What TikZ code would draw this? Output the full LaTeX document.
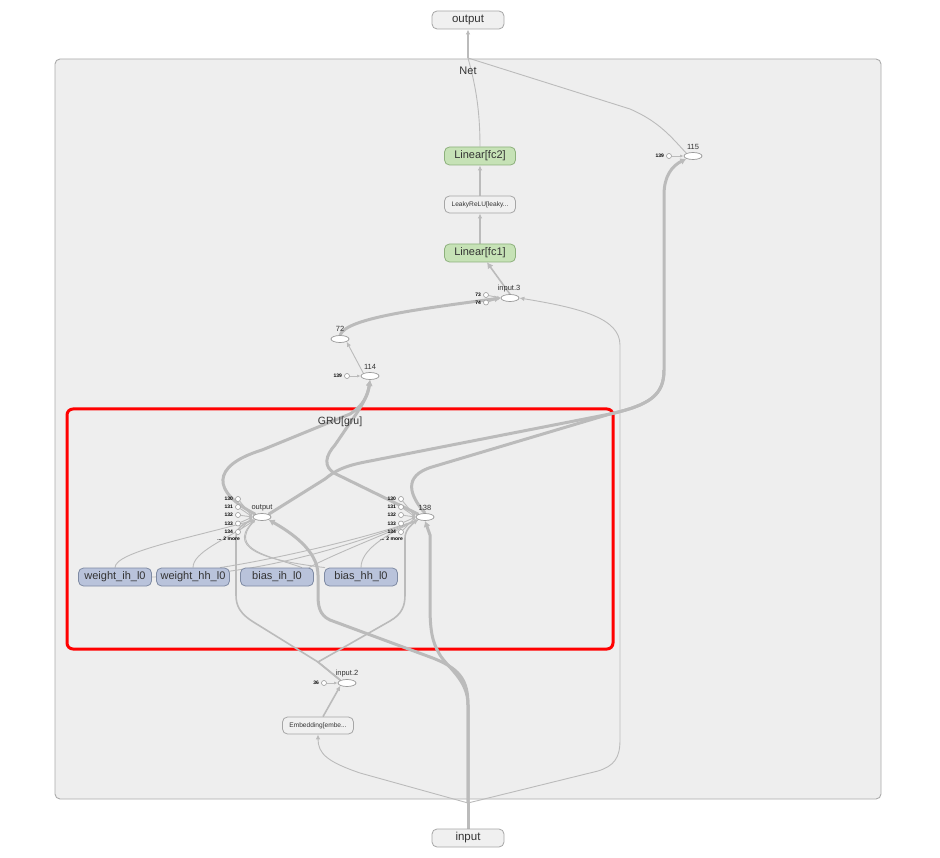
\documentclass[tikz,border=0pt]{standalone}
\usepackage{fontspec}
\setmainfont{Liberation Sans}
\usetikzlibrary{arrows.meta,shapes.geometric}

\definecolor{edgecol}{HTML}{BBBBBB}
\definecolor{netfill}{HTML}{EEEEEE}
\definecolor{netline}{HTML}{ABABAB}
\definecolor{boxfill}{HTML}{F0F0F0}
\definecolor{boxline}{HTML}{A6A6A6}
\definecolor{linfill}{HTML}{C6E2B6}
\definecolor{linline}{HTML}{8DB07C}
\definecolor{parfill}{HTML}{B9C3DB}
\definecolor{parline}{HTML}{7E8AA3}
\definecolor{opline}{HTML}{9A9A9A}
\definecolor{txt}{HTML}{333333}
\definecolor{grured}{HTML}{FF0000}

\pgfdeclarelayer{containers}
\pgfdeclarelayer{edges}
\pgfsetlayers{containers,edges,main}

\tikzset{
  iobox/.style={draw=boxline, fill=boxfill, rounded corners=5pt, line width=0.8pt,
    minimum width=72pt, minimum height=18pt, inner sep=0pt, text=txt,
    font=\fontsize{11.5}{12}\selectfont},
  linbox/.style={iobox, draw=linline, fill=linfill, minimum width=71pt,
    font=\fontsize{11}{12}\selectfont},
  modbox/.style={iobox, minimum width=71pt, minimum height=17pt,
    font=\fontsize{6.6}{7}\selectfont},
  parbox/.style={iobox, draw=parline, fill=parfill, minimum width=73pt,
    font=\fontsize{11}{12}\selectfont},
  opnode/.style={ellipse, draw=opline, fill=white, line width=0.7pt,
    minimum width=18pt, minimum height=7pt, inner sep=0pt},
  oplbl/.style={font=\fontsize{7.5}{8}\selectfont, text=txt, inner sep=0pt},
  cst/.style={circle, draw=opline, fill=white, line width=0.6pt,
    minimum size=5pt, inner sep=0pt},
  cstlbl/.style={font=\bfseries\fontsize{5}{5}\selectfont, inner sep=0pt,
    anchor=east, text=black},
  thinedge/.style={draw=edgecol, line width=0.9pt},
  medge/.style={draw=edgecol, line width=1.6pt},
  fatedge/.style={draw=edgecol, line width=3pt},
  tip/.style={-{Latex[length=5pt,width=4.5pt]}},
  smalltip/.style={-{Latex[length=3.5pt,width=3pt]}},
  fattip/.style={-{Latex[length=6pt,width=7pt]}},
}

\begin{document}
\begin{tikzpicture}[x=1pt,y=-1pt]
\useasboundingbox (0,0) rectangle (940,858);

% ---------------- containers ----------------
\begin{pgfonlayer}{containers}
\fill[white] (0,0) rectangle (940,858);
\draw[draw=netline, fill=netfill, line width=0.9pt, rounded corners=5pt]
  (55,59) rectangle (881,799);
\draw[draw=grured, line width=3pt, rounded corners=6pt] (67,409) rectangle (613,649);
\end{pgfonlayer}
\node[font=\fontsize{11}{12}\selectfont, text=txt] (netlbl) at (468,71) {Net};
\node[font=\fontsize{10.5}{12}\selectfont, text=txt] (grulbl) at (340,422) {GRU[gru]};

% join points on the Net border
\coordinate (topjoin) at (468,58);
\coordinate (botjoin) at (468,803);

% ---------------- boxes ----------------
\node[iobox] (out) at (468,20) {output};
\node[iobox] (inp) at (468,838) {input};
\node[linbox] (fc2) at (480,156) {Linear[fc2]};
\node[modbox] (leaky) at (480,204.5) {LeakyReLU[leaky...};
\node[linbox] (fc1) at (480,253) {Linear[fc1]};
\node[modbox] (emb) at (318,725.5) {Embedding[embe...};

\node[parbox] (wih) at (115,577) {weight\_ih\_l0};
\node[parbox] (whh) at (193,577) {weight\_hh\_l0};
\node[parbox] (bih) at (277,577) {bias\_ih\_l0};
\node[parbox] (bhh) at (361,577) {bias\_hh\_l0};

% ---------------- operation nodes ----------------
\node[opnode] (in3) at (510,298) {};
\node[oplbl] (in3lbl) at (509,289) {input.3};
\node[opnode] (n72) at (340,339) {};
\node[oplbl] (n72lbl) at (340,329) {72};
\node[opnode] (n114) at (370,376) {};
\node[oplbl] (n114lbl) at (370,367) {114};
\node[opnode] (n115) at (693,156) {};
\node[oplbl] (n115lbl) at (693,146.5) {115};
\node[opnode] (outop) at (262,517) {};
\node[oplbl] (outoplbl) at (262,508) {output};
\node[opnode] (op138) at (425,517) {};
\node[oplbl] (op138lbl) at (425,508) {138};
\node[opnode] (in2) at (347,683) {};
\node[oplbl] (in2lbl) at (347,673.5) {input.2};

% ---------------- constants ----------------
\node[cst] (c73) at (486,295) {};
\node[cstlbl] at ([xshift=-2pt]c73.west) {73};
\node[cst] (c74) at (486,302.5) {};
\node[cstlbl] at ([xshift=-2pt]c74.west) {74};
\node[cst] (c139a) at (347,376) {};
\node[cstlbl] at ([xshift=-2pt]c139a.west) {139};
\node[cst] (c139b) at (669,156) {};
\node[cstlbl] at ([xshift=-2pt]c139b.west) {139};
\node[cst] (c36) at (324,683) {};
\node[cstlbl] at ([xshift=-2pt]c36.west) {36};

\foreach \nm/\yy in {130/499,131/507,132/515,133/523.5,134/532} {
  \node[cst] (oc\nm) at (238,\yy) {};
  \node[cstlbl] at ([xshift=-2pt]oc\nm.west) {\nm};
  \node[cst] (hc\nm) at (401,\yy) {};
  \node[cstlbl] at ([xshift=-2pt]hc\nm.west) {\nm};
}
\node[cstlbl] (omore) at (240,538.5) {... 2 more};
\node[cstlbl] (hmore) at (403,538.5) {... 2 more};

% ---------------- edges ----------------
\begin{pgfonlayer}{edges}
% constants into their operations
\draw[thinedge, smalltip] (c73) -- (in3.west);
\draw[thinedge, smalltip] (c74) -- (in3.west);
\draw[thinedge, smalltip] (c139a) -- (n114.west);
\draw[thinedge, smalltip] (c139b) -- (n115.west);
\draw[thinedge, smalltip] (c36) -- (in2.west);
\foreach \nm in {130,131,132,133,134} {
  \draw[thinedge, smalltip] (oc\nm) -- (outop.west);
  \draw[thinedge, smalltip] (hc\nm) -- (op138.west);
}

% parameters into the GRU operations
\draw[thinedge, smalltip] (wih.north) .. controls (115,552) and (190,538) .. (outop.south west);
\draw[thinedge, smalltip] (whh.north) .. controls (193,552) and (225,540) .. (outop.south west);
\draw[thinedge, smalltip] ([xshift=25pt]bih.north) .. controls (270,556) and (228,550) .. (outop.south west);
\draw[thinedge, smalltip] ([xshift=-36pt]bhh.north) .. controls (280,562) and (222,552) .. (outop.south west);
\draw[thinedge, smalltip] (wih.east) .. controls (260,576) and (350,545) .. (op138.south west);
\draw[thinedge, smalltip] ([xshift=27pt]whh.north) .. controls (270,560) and (360,540) .. (op138.south west);
\draw[thinedge, smalltip] ([xshift=32pt]bih.north) .. controls (330,556) and (380,536) .. (op138.south west);
\draw[thinedge, smalltip] (bhh.north) .. controls (361,550) and (385,535) .. (op138.south west);

% network input
\draw[fatedge] (inp.north) -- (botjoin);
\draw[thinedge, tip] (botjoin) -- (360,773) .. controls (328,762) and (318,754) .. (emb.south);
\draw[thinedge, tip] (botjoin) -- (598,771) .. controls (614,766) and (620,758) .. (620,740)
  -- (620,345) .. controls (620,318) and (580,308) .. (in3.east);
\draw[fatedge, fattip] (botjoin) -- (468,705) .. controls (468,680) and (460,668) .. (430,657)
  -- (330,620) .. controls (319,615) and (318,605) .. (318,595) -- (318,575)
  .. controls (318,550) and (290,532) .. (outop.south east);
\draw[fatedge, fattip] (botjoin) -- (468,705) .. controls (468,680) and (448,668) .. (440,655)
  .. controls (432,642) and (430,630) .. (430,605) -- (430,535) -- (op138.south);

% embedding path
\draw[medge, tip] ([xshift=5pt]emb.north) -- (in2.south west);
\draw[medge, tip] (in2.north west) -- (318,662) -- (255,623) .. controls (240,614) and (236,606) .. (236,595)
  -- (236,537) .. controls (236,528) and (244,523) .. (outop.south west);
\draw[medge, tip] (in2.north west) -- (318,662) -- (390,621) .. controls (402,614) and (405,606) .. (405,595)
  -- (405,538) .. controls (405,530) and (412,524) .. (op138.south west);

% GRU outputs
\draw[fatedge, fattip] (outop.north west) .. controls (212,492) and (210,466) .. (262,450)
  -- (350,414) .. controls (364,405) and (368,395) .. (n114.south);
\draw[fatedge, fattip] (op138.north west) -- (336,474) .. controls (322,467) and (326,455) .. (335,445)
  -- (352,420) .. controls (362,406) and (368,395) .. (n114.south);
\draw[fatedge, fattip] (outop.north east) -- (325,479) .. controls (336,470) and (345,466) .. (365,462)
  -- (610,414) .. controls (650,405) and (664,395) .. (664,370) -- (664,195)
  .. controls (664,176) and (672,166) .. (n115.south west);
\draw[fatedge] (op138.north) .. controls (410,496) and (402,476) .. (432,467)
  -- (610,414) .. controls (650,405) and (664,395) .. (664,370);

% head of the network
\draw[thinedge, tip] (n114.north west) -- (n72.south east);
\draw[fatedge, fattip] (n72.north) .. controls (346,318) and (420,309) .. (in3.west);
\draw[medge, fattip] (in3.north) -- ([xshift=7pt]fc1.south);
\draw[medge, tip] (fc1.north) -- (leaky.south);
\draw[medge, tip] (leaky.north) -- (fc2.south);
\draw[thinedge] (fc2.north) .. controls (480,105) and (474,80) .. (topjoin);
\draw[thinedge] (n115.north west) .. controls (672,138) and (660,122) .. (630,109) -- (topjoin);
\draw[medge, tip] (topjoin) -- (out.south);
\end{pgfonlayer}
\end{tikzpicture}
\end{document}
